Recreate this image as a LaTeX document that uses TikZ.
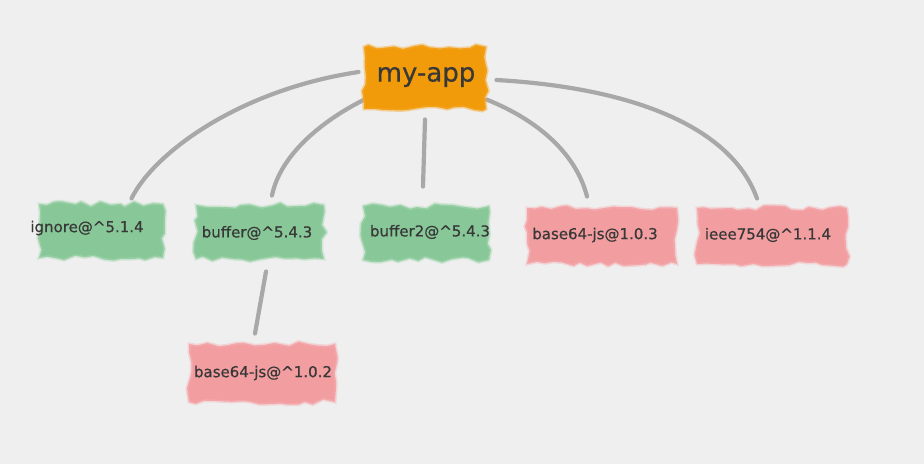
\documentclass[tikz,border=0pt]{standalone}
\usepackage{fontspec}
\setmainfont{DejaVu Sans}[BoldFont={DejaVu Sans},BoldFeatures={FakeBold=0.6}]
\usetikzlibrary{decorations.pathmorphing}
\pgfdeclarelayer{bottom}
\pgfdeclarelayer{background}
\pgfsetlayers{bottom,background,main}
\definecolor{bgc}{HTML}{EFEFEF}
\definecolor{orangeb}{HTML}{F29B0A}
\definecolor{greenb}{HTML}{88C898}
\definecolor{pinkb}{HTML}{F29DA0}
\definecolor{linec}{HTML}{A8A8A8}
\definecolor{txtc}{HTML}{383838}
\begin{document}
\begin{tikzpicture}[x=1pt,y=-1pt,
  blob/.style={rectangle, inner sep=0pt, decorate,
    decoration={random steps, segment length=9pt, amplitude=2.8pt},
    line width=3pt, draw opacity=.45},
  blobg/.style={blob, fill=greenb, draw=greenb!70!white},
  blobp/.style={blob, fill=pinkb, draw=pinkb!75!white},
  bloba/.style={blob, fill=orangeb, draw=orangeb!85!white},
  lbl/.style={inner sep=0pt, text=txtc, font=\bfseries\fontsize{15}{17}\selectfont},
  conn/.style={draw=linec, line width=4.2pt, line cap=round}]
\pgfmathsetseed{11}
\begin{pgfonlayer}{bottom}
\useasboundingbox (0,0) rectangle (924,464);
\fill[bgc] (0,0) rectangle (924,464);
\end{pgfonlayer}
% blobs
\node[bloba, minimum width=122pt, minimum height=62pt] (app) at (425,78) {};
\node[blobg, minimum width=124pt, minimum height=54pt] (ignore) at (101,231) {};
\node[blobg, minimum width=128pt, minimum height=54pt] (buffer) at (260,232) {};
\node[blobg, minimum width=126pt, minimum height=54pt] (buffertwo) at (426,233) {};
\node[blobp, minimum width=150pt, minimum height=56pt] (bjs) at (602,236) {};
\node[blobp, minimum width=150pt, minimum height=56pt] (ieee) at (772,236) {};
\node[blobp, minimum width=146pt, minimum height=58pt] (bjsc) at (262,373) {};
% labels
\node[lbl, font=\bfseries\fontsize{26}{28}\selectfont] (appT) at (426,77) {my-app};
\node[lbl] (ignoreT) at (87,228) {ignore@\^{}5.1.4};
\node[lbl] (bufferT) at (257,233) {buffer@\^{}5.4.3};
\node[lbl] (buffertwoT) at (430,232) {buffer2@\^{}5.4.3};
\node[lbl] (bjsT) at (595,235) {base64-js@1.0.3};
\node[lbl] (ieeeT) at (768,235) {ieee754@\^{}1.1.4};
\node[lbl] (bjscT) at (263,373) {base64-js@\^{}1.0.2};
% connectors
\begin{pgfonlayer}{background}
\draw[conn] ([xshift=-4pt,yshift=6pt]app.west) .. controls +(-120,18) and +(22,-45) .. ([xshift=-33pt,yshift=4pt]ignore.north east);
\draw[conn] ([xshift=4pt,yshift=12pt]app.south west) .. controls +(-45,22) and +(8,-40) .. ([xshift=12pt,yshift=8pt]buffer.north);
\draw[conn] ([yshift=-9pt]app.south) -- ([xshift=-3pt,yshift=18pt]buffertwo.north);
\draw[conn] ([xshift=-1pt,yshift=11pt]app.south east) .. controls +(55,22) and +(-10,-40) .. ([xshift=-15pt,yshift=10pt]bjs.north);
\draw[conn] ([xshift=9pt,yshift=-2pt]app.east) .. controls +(140,8) and +(-25,-70) .. ([xshift=-15pt,yshift=8pt]ieee.north);
\draw[conn] ([xshift=6pt,yshift=-11pt]buffer.south) -- ([xshift=-7pt,yshift=9pt]bjsc.north);
\end{pgfonlayer}
\end{tikzpicture}
\end{document}
